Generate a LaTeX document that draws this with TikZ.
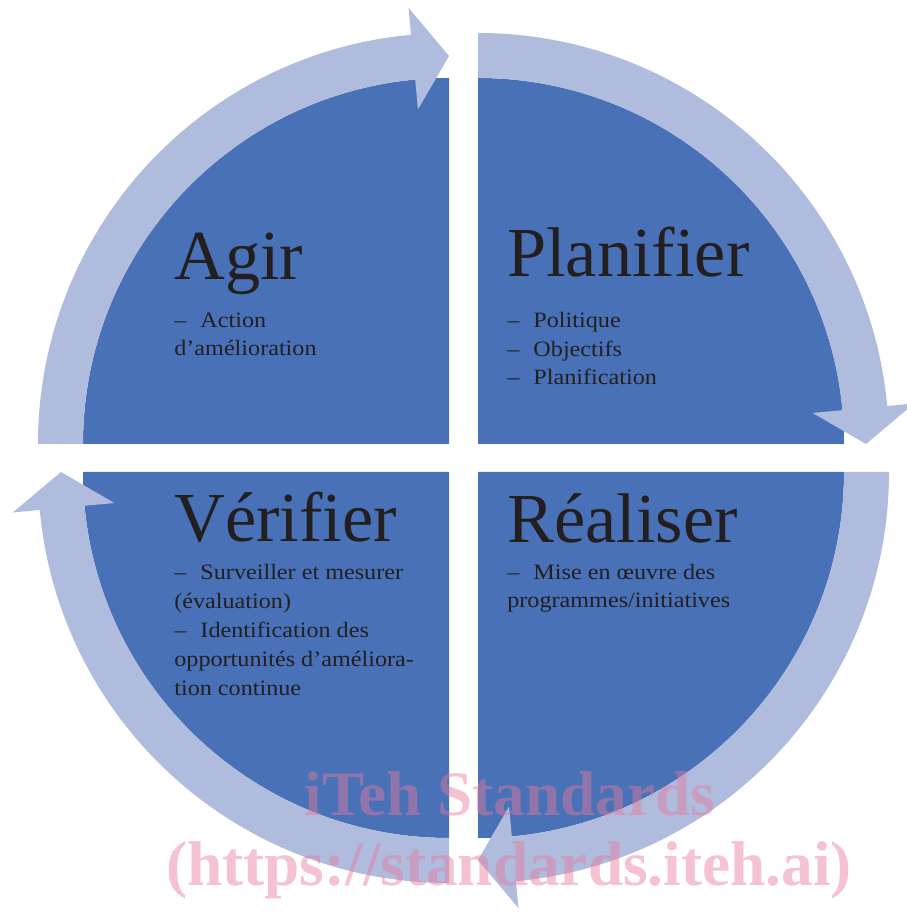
\documentclass[tikz,border=0pt]{standalone}
\usepackage{fontspec}
\setmainfont[FakeStretch=1.1]{Liberation Serif}
\newfontfamily\headfont{Liberation Serif}
\newfontfamily\wmfont{Liberation Serif}
\usepackage{tikz}
\usetikzlibrary{positioning}

\definecolor{quadblue}{RGB}{72,113,183}
\definecolor{ringblue}{RGB}{176,188,222}
\definecolor{txt}{RGB}{35,31,32}
\definecolor{wmpink}{RGB}{232,120,155}

\tikzset{
  quad/.style={fill=quadblue},
  ring/.style={fill=ringblue},
  head/.style={text=txt, inner sep=0pt, anchor=base west, font=\headfont\fontsize{40}{48}\selectfont},
  body/.style={text=txt, inner sep=0pt, anchor=base west, align=left, font=\fontsize{12.5}{16.4}\selectfont},
  wmark/.style={text=wmpink, opacity=0.45, inner sep=0pt, anchor=base, font=\wmfont\bfseries\fontsize{36}{40}\selectfont}
}

\begin{document}
\begin{tikzpicture}[x=0.2mm,y=0.2mm]
    \useasboundingbox (-463.5,-456) rectangle (442.5,458);
    % corners of the four quarters
    \coordinate (cA) at (-14.5,14);
    \coordinate (cP) at (14.5,14);
    \coordinate (cR) at (14.5,-14);
    \coordinate (cV) at (-14.5,-14);
    % quarters
    \foreach \c/\a in {cA/90,cP/0,cR/-90,cV/180}
      \fill[quad] (\c) -- ++(\a:366) arc[start angle=\a,end angle=\a+90,radius=366] -- cycle;
    % curved arrows
    \foreach \c/\a in {cA/180,cP/90,cR/0,cV/-90}
      \fill[ring,shift={(\c)}] (\a:366) -- (\a:411)
        arc[start angle=\a,end angle=\a-84.7,radius=411]
        -- ({\a-84.7}:438) -- ({\a-90}:388) -- ({\a-84.7}:336) -- ({\a-84.7}:366)
        arc[start angle=\a-84.7,end angle=\a,radius=366] -- cycle;
    % texts (body nodes sit on the baseline of their last line)
    \node[head] (agir) at (-289.5,178) {Agir};
    \node[body] (agirtxt) at (-289.5,102) {–\hspace{8pt}Action\\d’amélioration};
    \node[head] (planifier) at (43.5,181) {Planifier};
    \node[body] (planifiertxt) at (43.5,73) {–\hspace{8pt}Politique\\–\hspace{8pt}Objectifs\\–\hspace{8pt}Planification};
    \node[head] (verifier) at (-289.5,-84) {Vérifier};
    \node[body] (verifiertxt) at (-289.5,-237) {–\hspace{8pt}Surveiller et mesurer\\(évaluation)\\–\hspace{8pt}Identification des\\opportunités d’améliora-\\tion continue};
    \node[head] (realiser) at (43.5,-85) {Réaliser};
    \node[body] (realisertxt) at (43.5,-150) {–\hspace{8pt}Mise en œuvre des\\programmes/initiatives};
    % watermark
    \node[wmark] (wm1) at (46.5,-357) {iTeh Standards};
    \node[wmark] (wm2) at (45.5,-427) {(https://standards.iteh.ai)};
\end{tikzpicture}
\end{document}
